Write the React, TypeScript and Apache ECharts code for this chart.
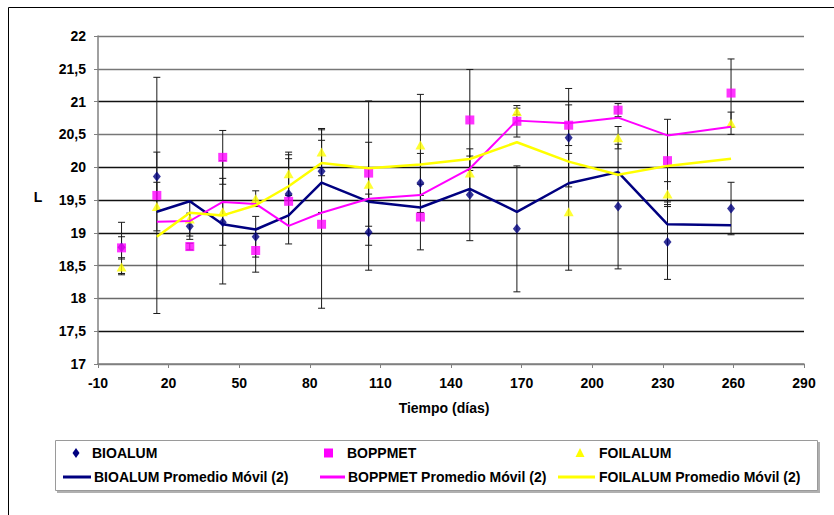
import React, { useEffect, useRef } from "react";
import * as echarts from "echarts";

// Sampling days
const days = [0, 15, 29, 43, 57, 71, 85, 105, 127, 148, 168, 190, 211, 232, 259];

// L values per packaging material
const bioalum = [18.78, 19.86, 19.1, 19.16, 18.94, 19.59, 19.94, 19.01, 19.76, 19.58, 19.06, 20.45, 19.4, 18.86, 19.37];
const boppmet = [18.77, 19.57, 18.79, 20.15, 18.73, 19.48, 19.13, 19.91, 19.24, 20.72, 20.7, 20.64, 20.87, 20.1, 21.13];
const foilalum = [18.48, 19.4, 19.21, 19.32, 19.52, 19.9, 20.23, 19.74, 20.34, 19.91, 20.85, 19.32, 20.45, 19.59, 20.67];

// Standard deviations (± error bars)
const bioalumErr = [0.16, 0.37, 0.2, 0.94, 0.31, 0.6, 0.63, 0.58, 0.45, 0.7, 0.96, 0.75, 0.95, 0.57, 0.4];
const boppmetErr = [0.39, 1.8, 0.05, 0.41, 0.33, 0.65, 1.28, 1.1, 0.5, 0.77, 0.24, 0.31, 0.1, 0.63, 0.52];
const foilalumErr = [0.12, 0.37, 0.26, 0.51, 0.12, 0.33, 0.36, 0.64, 0.77, 0.26, 0.05, 0.89, 0.17, 0.19, 0.17];

const seriesNames = ["BIOALUM", "BOPPMET", "FOILALUM"];
const trendNames = [
  "BIOALUM Promedio Móvil (2)",
  "BOPPMET Promedio Móvil (2)",
  "FOILALUM Promedio Móvil (2)",
];
const xTitle = "Tiempo (días)";
const yTitle = "L";

const NAVY = "#000080";
const MAGENTA = "#FF00FF";
const YELLOW = "#FFFF00";
const FONT = "'Liberation Sans', Arial, sans-serif";

// Two-period moving average, placed at the second point of each pair
function movingAverage(vals: number[]) {
  const out: number[][] = [];
  for (let i = 1; i < vals.length; i++) {
    out.push([days[i], (vals[i - 1] + vals[i]) / 2]);
  }
  return out;
}

function errorSeries(vals: number[], errs: number[]) {
  return {
    type: "custom",
    z: 1,
    silent: true,
    data: days.map((d, i) => [d, vals[i] - errs[i], vals[i] + errs[i]]),
    encode: { x: 0, y: [1, 2] },
    renderItem: (params: any, api: any) => {
      const x = api.value(0);
      const top = api.coord([x, api.value(2)]);
      const bot = api.coord([x, api.value(1)]);
      const w = 3.5;
      const style = { stroke: "#1a1a1a", lineWidth: 1 };
      return {
        type: "group",
        children: [
          { type: "line", shape: { x1: top[0], y1: top[1], x2: bot[0], y2: bot[1] }, style },
          { type: "line", shape: { x1: top[0] - w, y1: top[1], x2: top[0] + w, y2: top[1] }, style },
          { type: "line", shape: { x1: bot[0] - w, y1: bot[1], x2: bot[0] + w, y2: bot[1] }, style },
        ],
      };
    },
  };
}

function legendGraphics() {
  const row1 = 453;
  const row2 = 477;
  const txt = (x: number, y: number, s: string) => ({
    type: "text",
    x,
    y,
    style: { text: s, font: `bold 14px ${FONT}`, fill: "#000", textVerticalAlign: "middle" },
  });
  const line = (x1: number, x2: number, y: number, color: string) => ({
    type: "line",
    shape: { x1, y1: y, x2, y2: y },
    style: { stroke: color, lineWidth: 3 },
  });
  return [
    {
      type: "rect",
      shape: { x: 57, y: 442, width: 763, height: 51 },
      style: { fill: "#b0b0b0", stroke: "none" },
    },
    {
      type: "rect",
      shape: { x: 55.5, y: 440.5, width: 762, height: 50 },
      style: { fill: "#fff", stroke: "#9a9a9a", lineWidth: 1 },
    },
    {
      type: "polygon",
      shape: { points: [[76, row1 - 5], [79.5, row1], [76, row1 + 5], [72.5, row1]] },
      style: { fill: NAVY },
    },
    txt(92, row1, seriesNames[0]),
    {
      type: "rect",
      shape: { x: 324, y: row1 - 4.5, width: 9, height: 9 },
      style: { fill: MAGENTA },
    },
    txt(347, row1, seriesNames[1]),
    {
      type: "polygon",
      shape: { points: [[580, row1 - 5], [584.5, row1 + 4], [575.5, row1 + 4]] },
      style: { fill: YELLOW },
    },
    txt(599, row1, seriesNames[2]),
    line(63, 91, row2, NAVY),
    txt(94, row2, trendNames[0]),
    line(320, 345, row2, MAGENTA),
    txt(348, row2, trendNames[1]),
    line(558, 595, row2, YELLOW),
    txt(599, row2, trendNames[2]),
  ];
}

export default function App() {
  const ref = useRef<HTMLDivElement>(null);

  useEffect(() => {
    if (!ref.current) return;
    const chart = echarts.init(ref.current, null, { renderer: "svg" });

    const labelStyle = {
      color: "#000",
      fontFamily: FONT,
      fontWeight: "bold",
      fontSize: 14,
    };

    const option: any = {
      animation: false,
      backgroundColor: "#fff",
      grid: { left: 98, top: 36, width: 706, height: 328 },
      xAxis: {
        type: "value",
        min: -10,
        max: 290,
        interval: 30,
        axisLine: { show: true, onZero: false, lineStyle: { color: "#808080", width: 1.5 } },
        axisTick: { show: true, length: 4, lineStyle: { color: "#808080" } },
        splitLine: { show: false },
        axisLabel: { ...labelStyle, margin: 12 },
      },
      yAxis: {
        type: "value",
        min: 17,
        max: 22,
        interval: 0.5,
        axisLine: { show: true, onZero: false, lineStyle: { color: "#808080", width: 1.5 } },
        axisTick: { show: true, length: 4, lineStyle: { color: "#808080" } },
        splitLine: {
          show: true,
          lineStyle: {
            color: ["#808080", "#111", "#6a6a6a", "#6a6a6a", "#111", "#111", "#111", "#777", "#111", "#777", "#777"],
            width: 1.3,
          },
        },
        axisLabel: {
          ...labelStyle,
          margin: 12,
          formatter: (v: number) => String(v).replace(".", ","),
        },
      },
      graphic: [
        {
          type: "rect",
          shape: { x: 8.5, y: 7.5, width: 1000, height: 1000 },
          style: { fill: "none", stroke: "#000", lineWidth: 1 },
          silent: true,
        },
        {
          type: "text",
          x: 38,
          y: 197,
          style: { text: yTitle, font: `bold 14px ${FONT}`, fill: "#000", textAlign: "center", textVerticalAlign: "middle" },
        },
        {
          type: "text",
          x: 444,
          y: 408,
          style: { text: xTitle, font: `bold 14px ${FONT}`, fill: "#000", textAlign: "center", textVerticalAlign: "middle" },
        },
        ...legendGraphics(),
      ],
      series: [
        errorSeries(bioalum, bioalumErr),
        errorSeries(boppmet, boppmetErr),
        errorSeries(foilalum, foilalumErr),
        {
          name: seriesNames[0],
          type: "scatter",
          z: 2,
          symbol: "diamond",
          symbolSize: [8, 10],
          itemStyle: { color: NAVY },
          data: days.map((d, i) => [d, bioalum[i]]),
        },
        {
          name: seriesNames[1],
          type: "scatter",
          z: 2,
          symbol: "rect",
          symbolSize: 9,
          itemStyle: { color: MAGENTA },
          data: days.map((d, i) => [d, boppmet[i]]),
        },
        {
          name: seriesNames[2],
          type: "scatter",
          z: 2,
          symbol: "triangle",
          symbolSize: [10, 9],
          itemStyle: { color: YELLOW },
          data: days.map((d, i) => [d, foilalum[i]]),
        },
        {
          name: trendNames[0],
          type: "line",
          z: 3,
          symbol: "none",
          lineStyle: { color: NAVY, width: 2.5 },
          data: movingAverage(bioalum),
        },
        {
          name: trendNames[1],
          type: "line",
          z: 3,
          symbol: "none",
          lineStyle: { color: MAGENTA, width: 2 },
          data: movingAverage(boppmet),
        },
        {
          name: trendNames[2],
          type: "line",
          z: 3,
          symbol: "none",
          lineStyle: { color: YELLOW, width: 2.5 },
          data: movingAverage(foilalum),
        },
      ],
    };

    chart.setOption(option);
    return () => chart.dispose();
  }, []);

  return (
    <div
      ref={ref}
      style={{ position: "fixed", left: 0, top: 0, width: 834, height: 515, background: "#fff" }}
    />
  );
}
